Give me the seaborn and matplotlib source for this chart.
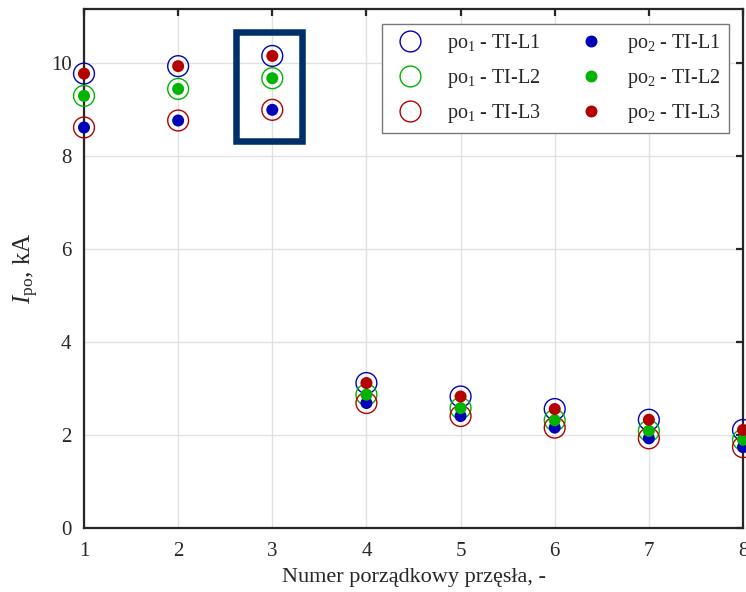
import matplotlib
matplotlib.use("Agg")
import matplotlib.pyplot as plt
import seaborn as sns
import pandas as pd
from matplotlib.patches import Rectangle
from matplotlib.lines import Line2D

span = [1, 2, 3, 4, 5, 6, 7, 8]
po1_L1 = [9.78, 9.94, 10.16, 3.12, 2.83, 2.56, 2.33, 2.11]
po1_L2 = [9.30, 9.45, 9.68, 2.87, 2.58, 2.32, 2.09, 1.90]
po1_L3 = [8.62, 8.77, 9.00, 2.69, 2.41, 2.16, 1.93, 1.74]
po2_L1 = [8.62, 8.77, 9.00, 2.69, 2.41, 2.16, 1.93, 1.74]
po2_L2 = [9.30, 9.45, 9.68, 2.87, 2.58, 2.32, 2.09, 1.90]
po2_L3 = [9.78, 9.94, 10.16, 3.12, 2.83, 2.56, 2.33, 2.11]
x_ticks = [1, 2, 3, 4, 5, 6, 7, 8]
y_ticks = [0, 2, 4, 6, 8, 10]

sns.set_theme(style="white")
plt.rcParams['font.family'] = ['Liberation Serif', 'DejaVu Serif']
plt.rcParams['mathtext.fontset'] = 'custom'
plt.rcParams['mathtext.rm'] = 'Liberation Serif'
plt.rcParams['mathtext.it'] = 'Liberation Serif:italic'

c_blue = '#0000b8'
c_green = '#00b400'
c_red = '#b40000'

fig = plt.figure(figsize=(7.46, 5.92), dpi=100)
ax = fig.add_axes([84/746, 64/592, 659/746, 519/592])

open_series = [(po1_L1, c_blue, r'po$_1$ - TI-L1'),
               (po1_L2, c_green, r'po$_1$ - TI-L2'),
               (po1_L3, c_red, r'po$_1$ - TI-L3')]
fill_series = [(po2_L1, c_blue, r'po$_2$ - TI-L1'),
               (po2_L2, c_green, r'po$_2$ - TI-L2'),
               (po2_L3, c_red, r'po$_2$ - TI-L3')]

for vals, col, lab in open_series:
    sns.scatterplot(x=span, y=vals, ax=ax, s=225, facecolors='none',
                    edgecolor=col, linewidth=1.0, marker='o', clip_on=False,
                    zorder=3, legend=False)
for vals, col, lab in fill_series:
    sns.scatterplot(x=span, y=vals, ax=ax, s=75, color=col,
                    edgecolor='none', marker='o', clip_on=False,
                    zorder=4, legend=False)

ax.set_xlim(1, 8)
ax.set_ylim(0, 11.17)
ax.set_xticks(x_ticks)
ax.set_yticks(y_ticks)
ax.grid(True, color='#e1e1e1', linewidth=1.0)
ax.set_axisbelow(True)
for sp in ax.spines.values():
    sp.set_visible(True)
    sp.set_color('#262626')
    sp.set_linewidth(1.6)
ax.tick_params(direction='in', length=5, width=1.6, colors='#262626',
               labelsize=15, top=True, right=True, labelcolor='#262626')
ax.tick_params(axis='x', pad=10)
ax.tick_params(axis='y', pad=9)

ax.set_xlabel('Numer porządkowy przęsła, -', fontsize=16, color='#262626', labelpad=5)
ax.set_ylabel(r'$I_{\mathrm{po}}$, kA', fontsize=18, color='#262626', labelpad=7)

ax.add_patch(Rectangle((2.611, 8.33), 3.316 - 2.611, 10.67 - 8.33, fill=False,
                       edgecolor='#00306a', linewidth=4.7, zorder=5,
                       joinstyle='miter'))

handles = []
for vals, col, lab in open_series:
    handles.append(Line2D([], [], linestyle='none', marker='o', markersize=15,
                          markerfacecolor='none', markeredgecolor=col,
                          markeredgewidth=1.0, label=lab))
for vals, col, lab in fill_series:
    handles.append(Line2D([], [], linestyle='none', marker='o', markersize=8.6,
                          markerfacecolor=col, markeredgecolor='none', label=lab))
leg = ax.legend(handles=handles, ncol=2, loc='upper right',
                bbox_to_anchor=(729/659 - 84/659, 1 - (24 - 9)/519),
                fontsize=14.5, frameon=True, fancybox=False, edgecolor='#777777',
                framealpha=1, borderpad=0.4, handletextpad=0.8,
                columnspacing=1.5, labelspacing=0.6, borderaxespad=0)
leg.get_frame().set_linewidth(1.0)
for t in leg.get_texts():
    t.set_color('#262626')

fig.savefig('out.png', dpi=100)
